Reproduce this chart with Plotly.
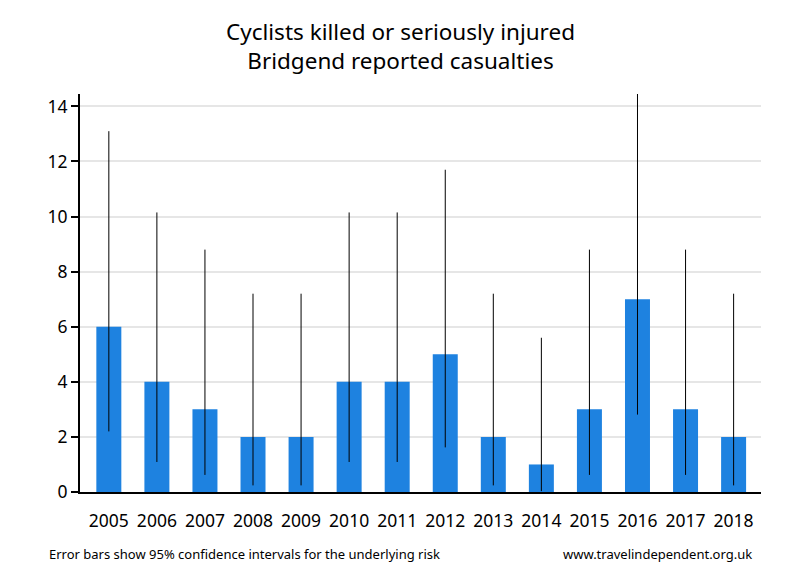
import plotly.graph_objects as go

years = ["2005", "2006", "2007", "2008", "2009", "2010", "2011", "2012",
         "2013", "2014", "2015", "2016", "2017", "2018"]
casualties = [6, 4, 3, 2, 2, 4, 4, 5, 2, 1, 3, 7, 3, 2]
ci_upper = [13.1, 10.15, 8.8, 7.2, 7.2, 10.15, 10.15, 11.7, 7.2, 5.6, 8.8, 14.45, 8.8, 7.2]
ci_lower = [2.2, 1.09, 0.62, 0.24, 0.24, 1.09, 1.09, 1.62, 0.24, 0.03, 0.62, 2.81, 0.62, 0.24]
y_ticks = [0, 2, 4, 6, 8, 10, 12, 14]

err_plus = [u - v for u, v in zip(ci_upper, casualties)]
err_minus = [v - l for v, l in zip(casualties, ci_lower)]

FONT = "Noto Sans"

fig = go.Figure(go.Bar(
    x=years, y=casualties,
    marker=dict(color="#1e82e0", line=dict(width=0)),
    width=0.52,
    error_y=dict(type="data", array=err_plus, arrayminus=err_minus,
                 color="black", thickness=1, width=0),
    hoverinfo="x+y",
))

fig.update_layout(
    width=800, height=580,
    paper_bgcolor="white", plot_bgcolor="white",
    margin=dict(l=80, r=39, t=94, b=88),
    showlegend=False,
    font=dict(family=FONT, color="black"),
)

fig.update_xaxes(
    type="category", range=[-0.6, 13.57],
    showline=True, linecolor="black", linewidth=2,
    ticks="", ticklabelstandoff=12,
    tickfont=dict(family=FONT, size=17.5, color="black"),
    showgrid=False, zeroline=False,
)
fig.update_yaxes(
    range=[0, 14.45], tickvals=y_ticks,
    showline=True, linecolor="black", linewidth=2,
    ticks="outside", ticklen=7, tickwidth=2, tickcolor="black",
    tickfont=dict(family=FONT, size=17.5, color="black"),
    showgrid=True, gridcolor="#e6e6e6", gridwidth=2,
    zeroline=False,
)

fig.add_annotation(text="Cyclists killed or seriously injured<br>Bridgend reported casualties",
                   xref="paper", yref="paper", x=(400 - 80) / 681, y=(492 - 46) / 398,
                   xanchor="center", yanchor="middle", showarrow=False,
                   font=dict(family=FONT, size=22.5, color="black"))
fig.add_annotation(text="Error bars show 95% confidence intervals for the underlying risk",
                   xref="paper", yref="paper", x=-0.048, y=-0.155,
                   xanchor="left", yanchor="middle", showarrow=False,
                   font=dict(family=FONT, size=13, color="black"))
fig.add_annotation(text="www.travelindependent.org.uk",
                   xref="paper", yref="paper", x=0.99, y=-0.155,
                   xanchor="right", yanchor="middle", showarrow=False,
                   font=dict(family=FONT, size=13, color="black"))

fig.write_html("out.html", config={"displayModeBar": False},
               post_script="document.body.style.margin='0';document.body.style.padding='0';")
